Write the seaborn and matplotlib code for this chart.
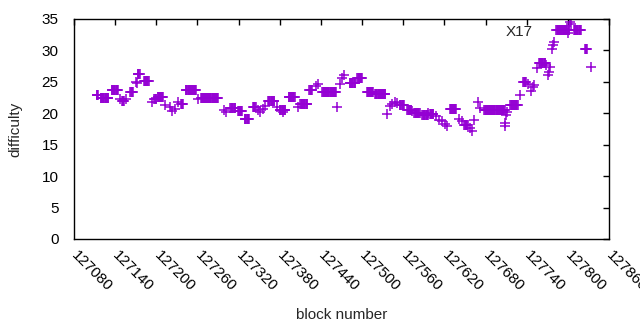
import matplotlib as mpl
mpl.use("agg")
import matplotlib.pyplot as plt
import seaborn as sns
import pandas as pd

# difficulty is constant over runs of blocks: first block, last block, difficulty
run_start = [127113, 127119, 127135, 127147, 127150, 127156, 127162, 127170, 127172, 127173,
             127182, 127194, 127197, 127202, 127213, 127220, 127223, 127227, 127232, 127236,
             127243, 127261, 127265, 127299, 127302, 127308, 127319, 127329, 127341, 127348,
             127351, 127356, 127359, 127363, 127376, 127380, 127385, 127393, 127407, 127410,
             127423, 127433, 127436, 127442, 127464, 127468, 127471, 127474, 127482, 127493,
             127507, 127519, 127536, 127541, 127544, 127548, 127551, 127555, 127566, 127573,
             127576, 127588, 127596, 127599, 127608, 127612, 127617, 127621, 127624, 127628,
             127641, 127646, 127649, 127658, 127660, 127663, 127669, 127672, 127678, 127708,
             127708, 127710, 127711, 127716, 127730, 127735, 127742, 127747, 127749, 127751,
             127755, 127758, 127768, 127771, 127773, 127774, 127777, 127778, 127780, 127783,
             127800, 127803, 127804, 127809, 127825, 127834]
run_end = [127115, 127130, 127144, 127147, 127153, 127156, 127166, 127170, 127172, 127176,
           127189, 127194, 127200, 127210, 127213, 127220, 127223, 127227, 127232, 127239,
           127258, 127261, 127290, 127299, 127302, 127315, 127325, 127335, 127345, 127348,
           127351, 127356, 127359, 127372, 127376, 127388, 127385, 127402, 127407, 127420,
           127427, 127433, 127436, 127462, 127464, 127468, 127471, 127474, 127490, 127500,
           127516, 127534, 127536, 127541, 127544, 127548, 127551, 127561, 127572, 127573,
           127584, 127596, 127596, 127604, 127608, 127612, 127617, 127621, 127624, 127637,
           127641, 127646, 127654, 127658, 127660, 127663, 127669, 127672, 127708, 127708,
           127708, 127710, 127711, 127727, 127730, 127739, 127742, 127747, 127749, 127751,
           127755, 127767, 127768, 127771, 127773, 127774, 127777, 127778, 127780, 127802,
           127800, 127803, 127804, 127819, 127828, 127834]
run_diff = [22.9, 22.5, 23.7, 22.3, 21.9, 22.2, 23.4, 25.0, 24.8, 26.2,
            25.2, 21.8, 22.2, 22.6, 21.3, 21.0, 20.4, 20.7, 21.8, 21.4,
            23.7, 22.2, 22.5, 20.5, 20.2, 20.8, 20.3, 19.1, 21.0, 20.6,
            20.2, 20.7, 21.2, 21.9, 21.0, 20.6, 20.2, 22.6, 21.0, 21.5,
            23.7, 24.4, 24.6, 23.4, 21.0, 24.6, 25.6, 26.1, 24.8, 25.6,
            23.4, 23.0, 19.9, 21.1, 21.5, 21.8, 21.6, 21.3, 20.5, 20.3,
            20.0, 19.7, 20.1, 19.9, 19.5, 19.0, 18.7, 18.3, 17.9, 20.7,
            19.1, 18.8, 18.1, 17.6, 17.2, 18.9, 21.8, 20.9, 20.6, 17.9,
            18.4, 19.8, 20.2, 21.3, 22.9, 25.0, 24.7, 23.6, 24.2, 24.5,
            27.2, 28.0, 27.7, 26.1, 26.6, 27.3, 30.2, 30.8, 31.3, 33.3,
            32.8, 34.6, 34.2, 33.2, 30.2, 27.4]

x_ticks = [127080, 127140, 127200, 127260, 127320, 127380, 127440,
           127500, 127560, 127620, 127680, 127740, 127800, 127860]
y_ticks = [0, 5, 10, 15, 20, 25, 30, 35]


def expand_runs(starts, ends, diffs):
    """One row per block"""
    rows = []
    for s, e, d in zip(starts, ends, diffs):
        for b in range(s, e + 1):
            rows.append((b, d))
    return pd.DataFrame(rows, columns=["block", "difficulty"])


df = expand_runs(run_start, run_end, run_diff)

sns.set_theme(style="white")
plt.rcParams["font.family"] = ["Liberation Sans", "DejaVu Sans"]
fs = 11

fig = plt.figure(figsize=(6.4, 3.3), dpi=100)
ax = fig.add_axes([74 / 640, 1 - 239 / 330, 535 / 640, 220 / 330])

sns.scatterplot(data=df, x="block", y="difficulty", marker="+", s=50,
                linewidth=1.1, color="#9400D3", ax=ax, legend=False)

ax.set_xlim(127080, 127860)
ax.set_ylim(0, 35)
ax.set_xticks(x_ticks)
ax.set_yticks(y_ticks)
ax.set_xticklabels([str(t) for t in x_ticks], rotation=-45, ha="left", va="center",
                   rotation_mode="anchor", fontsize=fs)
ax.set_yticklabels([str(t) for t in y_ticks], fontsize=fs)
ax.tick_params(direction="in", length=4, width=1, top=True, right=True,
               colors="black")
ax.tick_params(axis="y", pad=11)
ax.tick_params(axis="x", pad=10)
for sp in ax.spines.values():
    sp.set_visible(True)
    sp.set_color("black")
    sp.set_linewidth(1)

ax.set_xlabel("block number", fontsize=fs, labelpad=10)
ax.set_ylabel("difficulty", fontsize=fs, labelpad=14)
ax.text(127749, 32.9, "X17", fontsize=fs, ha="right", va="center")

fig.savefig("out.png", dpi=100)
